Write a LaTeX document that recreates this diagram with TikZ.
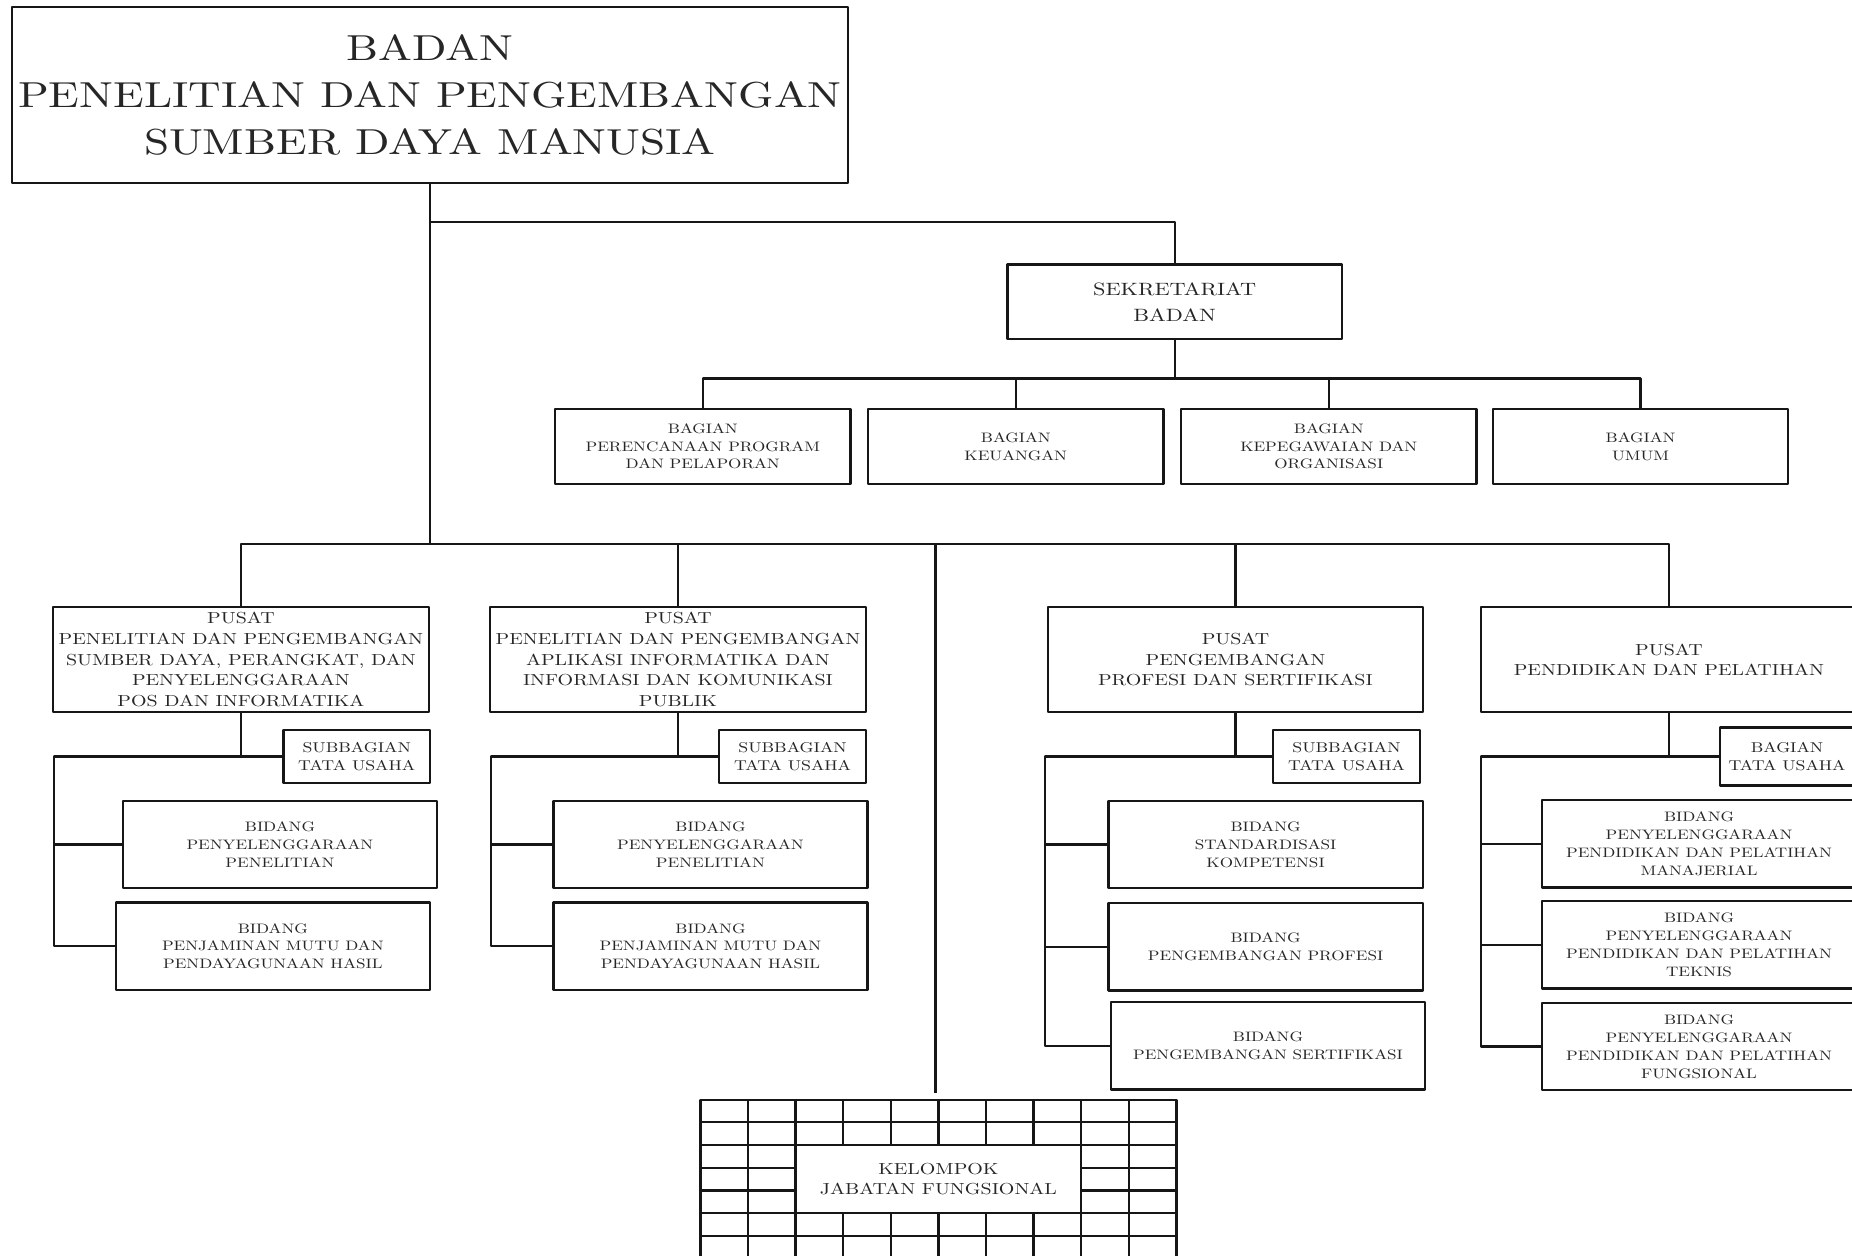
\documentclass[tikz,border=0pt]{standalone}
\usepackage{fontspec}
\setmainfont{lmroman10-regular.otf}[FakeStretch=1.25]
\usepackage{tikz}
\definecolor{orgline}{HTML}{161616}
\definecolor{orgtext}{HTML}{262626}
\tikzset{org/.style={line join=round,line width=1.1pt,draw=orgline},
  unit/.style={org,fill=white,text=orgtext,inner sep=1pt,align=center},
  topbox/.style={unit,minimum width=14.16cm,minimum height=2.98cm,font=\fontsize{17.4}{22.5}\selectfont},
  sekbox/.style={unit,minimum width=5.66cm,minimum height=1.26cm,font=\fontsize{8.6}{12.5}\selectfont},
  bagbox/.style={unit,minimum width=5cm,minimum height=1.28cm,font=\fontsize{6.6}{8.5}\selectfont},
  pusbox/.style={unit,minimum width=6.36cm,minimum height=1.78cm,font=\fontsize{7.7}{10}\selectfont},
  subbox/.style={unit,minimum width=2.48cm,minimum height=0.9cm,font=\fontsize{6.85}{8.5}\selectfont},
  bidbox/.style={unit,minimum width=5.32cm,minimum height=1.48cm,font=\fontsize{6.6}{8.6}\selectfont},
  kelbox/.style={unit,minimum width=4.83cm,minimum height=1.15cm,font=\fontsize{7.7}{9.7}\selectfont}}

\begin{document}
\begin{tikzpicture}[x=0.02cm,y=-0.02cm]
  \useasboundingbox(0,0)rectangle(1568,1063);
  \clip(0,0)rectangle(1568,1063);
  \node[topbox](badan)at(364,80.5){BADAN\\PENELITIAN DAN PENGEMBANGAN\\SUMBER DAYA MANUSIA};
  \node[sekbox](sek)at(994.5,255.5){SEKRETARIAT\\BADAN};
  \node[bagbox](bag1)at(595,378){BAGIAN\\PERENCANAAN PROGRAM\\DAN PELAPORAN};
  \node[bagbox](bag2)at(860,378){BAGIAN\\KEUANGAN};
  \node[bagbox](bag3)at(1125,378){BAGIAN\\KEPEGAWAIAN DAN\\ORGANISASI};
  \node[bagbox](bag4)at(1389,378){BAGIAN\\UMUM};
  \node[pusbox](p1)at(204,558.5){PUSAT\\PENELITIAN DAN PENGEMBANGAN\\SUMBER DAYA, PERANGKAT, DAN\\PENYELENGGARAAN\\POS DAN INFORMATIKA};
  \node[pusbox](p2)at(574,558.5){PUSAT\\PENELITIAN DAN PENGEMBANGAN\\APLIKASI INFORMATIKA DAN\\INFORMASI DAN KOMUNIKASI\\PUBLIK};
  \node[pusbox](p3)at(1046,558.5){PUSAT\\PENGEMBANGAN\\PROFESI DAN SERTIFIKASI};
  \node[pusbox](p4)at(1413,558.5){PUSAT\\PENDIDIKAN DAN PELATIHAN};
  \node[subbox](sb1)at(302,640.5){SUBBAGIAN\\TATA USAHA};
  \node[subbox](sb2)at(671,640.5){SUBBAGIAN\\TATA USAHA};
  \node[subbox](sb3)at(1140,640.5){SUBBAGIAN\\TATA USAHA};
  \node[subbox,minimum width=2.28cm,minimum height=0.98cm](sb4)at(1513,640.5){BAGIAN\\TATA USAHA};
  \node[bidbox](b11)at(237,715){BIDANG\\PENYELENGGARAAN\\PENELITIAN};
  \node[bidbox](b12)at(231,801){BIDANG\\PENJAMINAN MUTU DAN\\PENDAYAGUNAAN HASIL};
  \node[bidbox](b21)at(601.5,715){BIDANG\\PENYELENGGARAAN\\PENELITIAN};
  \node[bidbox](b22)at(601.5,801){BIDANG\\PENJAMINAN MUTU DAN\\PENDAYAGUNAAN HASIL};
  \node[bidbox](b31)at(1071.5,715){BIDANG\\STANDARDISASI\\KOMPETENSI};
  \node[bidbox](b32)at(1071.5,801.5){BIDANG\\PENGEMBANGAN PROFESI};
  \node[bidbox](b33)at(1073.5,885.5){BIDANG\\PENGEMBANGAN SERTIFIKASI};
  \node[bidbox](b41)at(1438.5,714.5){BIDANG\\PENYELENGGARAAN\\PENDIDIKAN DAN PELATIHAN\\MANAJERIAL};
  \node[bidbox](b42)at(1438.5,800){BIDANG\\PENYELENGGARAAN\\PENDIDIKAN DAN PELATIHAN\\TEKNIS};
  \node[bidbox](b43)at(1438.5,886){BIDANG\\PENYELENGGARAAN\\PENDIDIKAN DAN PELATIHAN\\FUNGSIONAL};
  \foreach \x in {633.3,673.6,915.4,955.7}\draw[org](\x,931)--(\x,1066);
  \foreach \x in {713.9,754.2,794.5,834.8,875.1}{\draw[org](\x,931)--(\x,969.4);\draw[org](\x,1027)--(\x,1066);}
  \foreach \y in {950.2,969.4,1027,1046.2}\draw[org](593,\y)--(996,\y);
  \foreach \y in {988.6,1007.8}{\draw[org](593,\y)--(673.6,\y);\draw[org](915.4,\y)--(996,\y);}
  \draw[org](593,1066)|-(996,931)--(996,1066);
  \node[kelbox](kjf)at(794.5,998.2){KELOMPOK\\JABATAN FUNGSIONAL};
  \coordinate(sektap)at(364,188);
  \coordinate(kgt)at(792,925);
  \draw[org](p1.north)--++(0,-52.5)coordinate(bus)-|(p4.north);
  \draw[org](badan.south)--(badan.south|-bus);
  \draw[org](p2.north)--(p2.north|-bus);
  \draw[org](p3.north)--(p3.north|-bus);
  \draw[org](kgt|-bus)--(kgt);
  \draw[org](sektap)-|(sek.north);
  \draw[org](sek.south)--++(0,32.5)coordinate(bagbus);
  \draw[org](bag1.north)--(bag1.north|-bagbus)-|(bag4.north);
  \draw[org](bag2.north)--(bag2.north|-bagbus);
  \draw[org](bag3.north)--(bag3.north|-bagbus);
  \coordinate(r1)at(46,640.5);
  \coordinate(r2)at(416,640.5);
  \coordinate(r3)at(885,640.5);
  \coordinate(r4)at(1254,640.5);
  \draw[org](p1.south)|-(sb1.west);
  \draw[org](p1.south|-sb1.west)--(r1)|-(b12.west);
  \draw[org](r1|-b11.west)--(b11.west);
  \draw[org](p2.south)|-(sb2.west);
  \draw[org](p2.south|-sb2.west)--(r2)|-(b22.west);
  \draw[org](r2|-b21.west)--(b21.west);
  \draw[org](p3.south)|-(sb3.west);
  \draw[org](p3.south|-sb3.west)--(r3)|-(b33.west);
  \draw[org](r3|-b31.west)--(b31.west);
  \draw[org](r3|-b32.west)--(b32.west);
  \draw[org](p4.south)|-(sb4.west);
  \draw[org](p4.south|-sb4.west)--(r4)|-(b43.west);
  \draw[org](r4|-b41.west)--(b41.west);
  \draw[org](r4|-b42.west)--(b42.west);
\end{tikzpicture}
\end{document}
